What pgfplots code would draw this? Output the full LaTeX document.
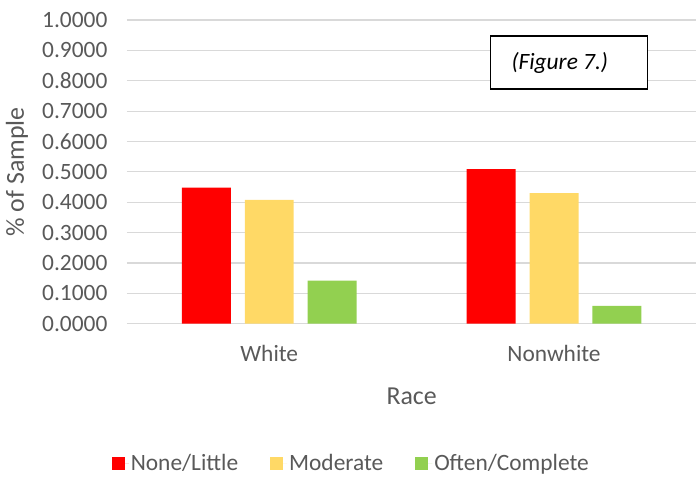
\documentclass[border=0pt]{standalone}
\usepackage{pgfplots}
\pgfplotsset{compat=1.18}
\usepackage{fontspec}
\setmainfont{Carlito}
\definecolor{cRed}{HTML}{FF0000}
\definecolor{cYel}{HTML}{FFD966}
\definecolor{cGrn}{HTML}{92D050}
\definecolor{cTxt}{HTML}{595959}
\definecolor{cGrid}{HTML}{D9D9D9}
\begin{document}
\begin{tikzpicture}
\begin{axis}[
    scale only axis,
    width=570bp, height=304bp,
    ybar=14bp, bar width=49bp,
    xmin=-0.5, xmax=1.5,
    ymin=0, ymax=1,
    ytick={0,0.1,...,1.01},
    xtick={0,1},
    xticklabels={White,Nonwhite},
    ticklabel style={font=\fontsize{23.5}{26}\selectfont, text=cTxt},
    yticklabel style={xshift=-16bp, /pgf/number format/.cd, fixed, fixed zerofill, precision=4, assume math mode=true},
    xticklabel style={yshift=-18bp},
    major tick length=0pt,
    axis line style={draw=none},
    ymajorgrids, grid style={cGrid, line width=1.2bp},
    xlabel={Race}, ylabel={\% of Sample},
    xlabel style={at={(rel axis cs:0.5,0)}, anchor=center, yshift=-73bp, font=\fontsize{26}{30}\selectfont, text=cTxt},
    ylabel style={at={(rel axis cs:0,0.5)}, anchor=center, rotate=0, yshift=110bp, font=\fontsize{26}{30}\selectfont, text=cTxt},
    legend columns=3,
    legend style={at={(rel axis cs:0.394,0)}, anchor=center, yshift=-140bp, draw=none,
        font=\fontsize{23.5}{26}\selectfont, text=cTxt,
        /tikz/every even column/.append style={column sep=30bp}},
    legend image code/.code={\fill[#1] (0bp,-6.5bp) rectangle (13bp,6.5bp); \path (0bp,0bp) -- (17bp,0bp);},
]
\addplot[fill=cRed, draw=none] coordinates {(0,0.448) (1,0.509)};
\addplot[fill=cYel, draw=none] coordinates {(0,0.408) (1,0.430)};
\addplot[fill=cGrn, draw=none] coordinates {(0,0.142) (1,0.059)};
\legend{None/Little, Moderate, Often/Complete}
\node[draw=black, line width=1.3bp, minimum width=157bp, minimum height=53bp, fill=white] at (rel axis cs:0.776,0.86) {};
\node[anchor=west, font=\itshape\fontsize{23.5}{26}\selectfont, inner sep=0pt] at (rel axis cs:0.675,0.86) {(Figure 7.)};
\end{axis}
\path[use as bounding box] (current axis.south west) ++(-127bp,-154bp) rectangle ++(697bp,478bp);
\end{tikzpicture}
\end{document}
